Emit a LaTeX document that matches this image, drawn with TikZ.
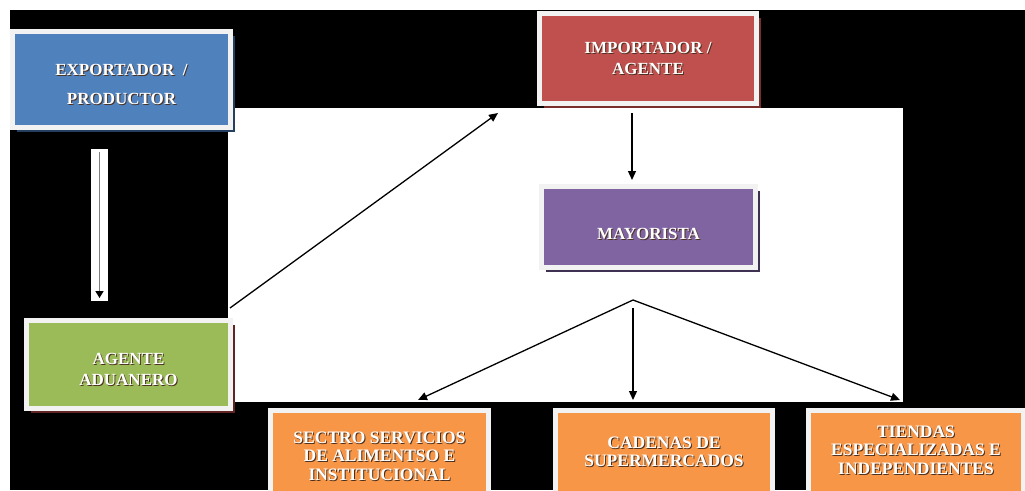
\documentclass[tikz,border=0pt]{standalone}
\usepackage{fontspec}
\setmainfont{Liberation Serif}
\usetikzlibrary{arrows.meta,shadows}
\definecolor{cblue}{HTML}{4F81BD}
\definecolor{cred}{HTML}{C0504D}
\definecolor{cpurple}{HTML}{8064A2}
\definecolor{cgreen}{HTML}{9BBB59}
\definecolor{corange}{HTML}{F79646}
\definecolor{frame}{HTML}{F2F2F2}
\definecolor{sblue}{HTML}{243F60}
\definecolor{sred}{HTML}{7A2E2C}
\definecolor{spurple}{HTML}{3F3151}
\definecolor{sgreen}{HTML}{632523}
\definecolor{txtsh}{HTML}{4A3020}
\newcommand{\tsh}[1]{\leavevmode\rlap{\kern1pt\raisebox{-1pt}{\textcolor{txtsh}{#1}}}#1}
\newcommand{\dn}[2]{\raisebox{-#1}[\height][\depth]{\begin{tabular}{@{}c@{}}#2\end{tabular}}}
\begin{document}
\begin{tikzpicture}[x=1pt,y=-1pt,
  box/.style={draw=frame, line width=5pt, inner sep=0pt, text=white,
    font=\bfseries\fontsize{17}{21}\selectfont},
  sh/.style={drop shadow={shadow xshift=4.5pt, shadow yshift=-4.5pt, fill=#1, opacity=1}},
  arr/.style={line width=1.3pt, -{Triangle[length=9pt,width=8pt]}}
]
\useasboundingbox (0,0) rectangle (1025,490);
\clip (0,0) rectangle (1025,490);
\fill[white] (0,0) rectangle (1025,490);
\fill[black] (10,10) rectangle (1025,490);
\fill[white] (228,108) rectangle (903,402);

% exporter -> agente (white strip arrow)
\node[fill=white, minimum width=17pt, minimum height=152pt, inner sep=0pt] (strip) at (99.5,225) {};
\coordinate (s1) at (99.5,152);
\coordinate (s2) at (99.5,298);
\draw[gray, line width=1.6pt, -{Triangle[length=7pt,width=8pt,black]}] (s1) -- (s2);

% boxes
\node[box, fill=cblue, sh=sblue, minimum width=218pt, minimum height=96pt] (exp) at (121.5,79.5)
  {\dn{6pt}{\tsh{EXPORTADOR~ /}\\[8pt]\tsh{PRODUCTOR}}};
\node[box, fill=cgreen, sh=sgreen, minimum width=204pt, minimum height=88pt] (adu) at (128.5,364.5)
  {\dn{6pt}{\tsh{AGENTE}\\\tsh{ADUANERO}}};
\node[box, fill=cred, sh=sred, minimum width=217pt, minimum height=90pt] (imp) at (648,58.5)
  {\dn{1pt}{\tsh{IMPORTADOR /}\\\tsh{AGENTE}}};
\node[box, fill=cpurple, sh=spurple, minimum width=214pt, minimum height=81pt] (may) at (648.5,227)
  {\dn{8pt}{\tsh{MAYORISTA}}};

\begin{scope}[box/.append style={font=\bfseries\fontsize{17.5}{18.5}\selectfont}]
\node[box, fill=corange, minimum width=218pt, minimum height=89pt] (sec) at (379.5,455)
  {\dn{3pt}{\tsh{SECTRO SERVICIOS}\\\tsh{DE ALIMENTSO E}\\\tsh{INSTITUCIONAL}}};
\node[box, fill=corange, minimum width=217pt, minimum height=89pt] (cad) at (664,455)
  {\dn{-1pt}{\tsh{CADENAS DE}\\\tsh{SUPERMERCADOS}}};
\node[box, fill=corange, minimum width=215pt, minimum height=89pt] (tie) at (916,455)
  {\dn{-3pt}{\tsh{TIENDAS}\\\tsh{ESPECIALIZADAS E}\\\tsh{INDEPENDIENTES}}};
\end{scope}

% connectors
\coordinate (d1) at (230,308);
\coordinate (d2) at (498,113);
\draw[arr] (d1) -- (d2);
\coordinate (v1) at (632,113);
\coordinate (v2) at (632,180);
\draw[arr] (v1) -- (v2);
\coordinate (pk) at (633,300);
\coordinate (bl) at (418,400);
\coordinate (br) at (900,400);
\coordinate (m1) at (633,308);
\coordinate (m2) at (633,400);
\draw[arr] (pk) -- (bl);
\draw[arr] (pk) -- (br);
\draw[arr] (m1) -- (m2);
\end{tikzpicture}
\end{document}
